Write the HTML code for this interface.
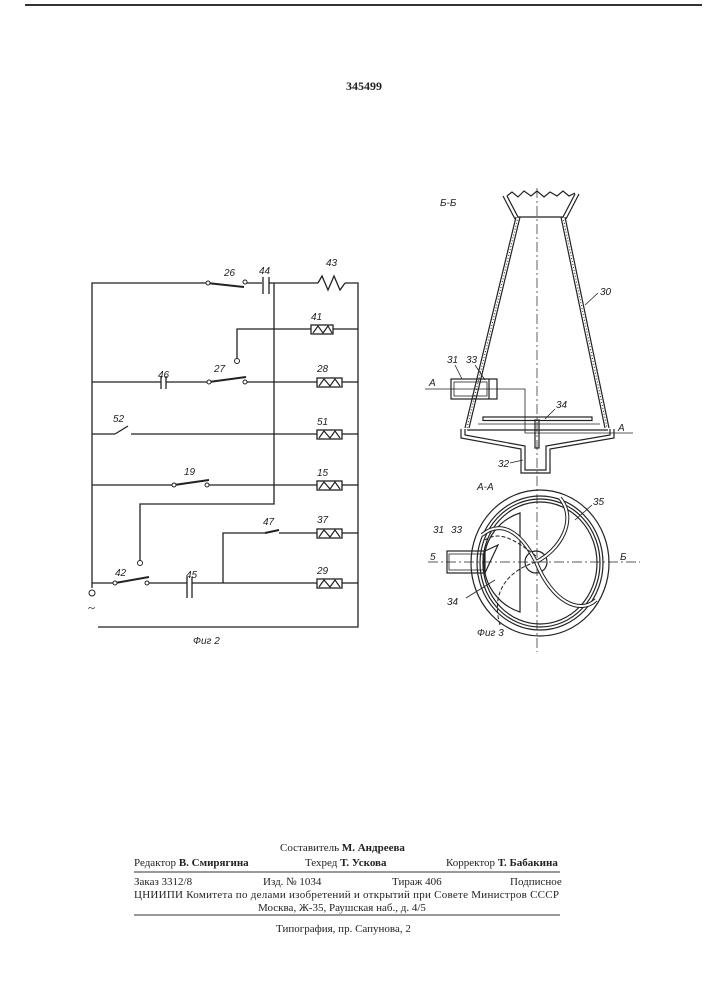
<!DOCTYPE html>
<html><head><meta charset="utf-8"><style>
html,body{margin:0;padding:0;background:#fff}
svg{display:block}
text{font-family:"Liberation Serif",serif;fill:#222}
.i{font-family:"Liberation Sans",sans-serif;font-style:italic;font-size:10px}
</style></head><body>
<svg width="707" height="1000" viewBox="0 0 707 1000" xmlns="http://www.w3.org/2000/svg">
<line x1="25" y1="5" x2="702" y2="5" stroke="#333" stroke-width="2"/>
<text x="346" y="90" font-size="12" font-weight="bold">345499</text>

<g stroke="#222" stroke-width="1.3" fill="none">
<polyline points="207,283 92,283 92,588"/>
<polyline points="98,627 358,627 358,283 345,283"/>
<line x1="207" y1="283" x2="244" y2="287" stroke-width="2"/>
<line x1="245" y1="283" x2="262" y2="283"/>
<line x1="263" y1="277" x2="263" y2="294"/><line x1="269" y1="277" x2="269" y2="294"/>
<line x1="269" y1="283" x2="318" y2="283"/>
<polyline points="318,283 322,276 328,290 334,276 340,290 345,283"/>
<polyline points="274,283 274,504 140,504 140,561"/>
<polyline points="237,359 237,329 311,329"/><line x1="333" y1="329" x2="358" y2="329"/>
<rect x="311" y="325" width="22" height="9"/>
<line x1="92" y1="382" x2="161" y2="382"/><line x1="166" y1="382" x2="209" y2="382"/>
<line x1="161" y1="376" x2="161" y2="389"/><line x1="166" y1="376" x2="166" y2="389"/>
<line x1="209" y1="382" x2="246" y2="377" stroke-width="2"/>
<line x1="245" y1="382" x2="317" y2="382"/><line x1="342" y1="382" x2="358" y2="382"/>
<rect x="317" y="378" width="25" height="9"/>
<line x1="92" y1="434" x2="115" y2="434"/>
<line x1="115" y1="434" x2="128" y2="426"/>
<line x1="131" y1="434" x2="317" y2="434"/><line x1="342" y1="434" x2="358" y2="434"/>
<rect x="317" y="430" width="25" height="9"/>
<line x1="92" y1="485" x2="174" y2="485"/>
<line x1="174" y1="485" x2="209" y2="480" stroke-width="2"/>
<line x1="207" y1="485" x2="317" y2="485"/><line x1="342" y1="485" x2="358" y2="485"/>
<rect x="317" y="481" width="25" height="9"/>
<polyline points="223,583 223,533 265,533"/>
<line x1="265" y1="533" x2="279" y2="530" stroke-width="2"/>
<line x1="279" y1="533" x2="317" y2="533"/><line x1="342" y1="533" x2="358" y2="533"/>
<rect x="317" y="529" width="25" height="9"/>
<line x1="92" y1="583" x2="115" y2="583"/>
<line x1="115" y1="583" x2="149" y2="577" stroke-width="2"/>
<line x1="147" y1="583" x2="187" y2="583"/>
<line x1="187" y1="577" x2="187" y2="598"/><line x1="192" y1="577" x2="192" y2="598"/>
<line x1="192" y1="583" x2="317" y2="583"/><line x1="342" y1="583" x2="358" y2="583"/>
<rect x="317" y="579" width="25" height="9"/>
<polyline points="313,333 318,326 323,333 328,326 332,333" stroke-width="1.2"/>
<polyline points="319,386 324,379 330,386 335,379 340,386" stroke-width="1.2"/>
<polyline points="319,438 324,431 330,438 335,431 340,438" stroke-width="1.2"/>
<polyline points="319,489 324,482 330,489 335,482 340,489" stroke-width="1.2"/>
<polyline points="319,537 324,530 330,537 335,530 340,537" stroke-width="1.2"/>
<polyline points="319,587 324,580 330,587 335,580 340,587" stroke-width="1.2"/>
</g>
<g fill="#fff" stroke="#222" stroke-width="1">
<circle cx="237" cy="361" r="2.5"/><circle cx="140" cy="563" r="2.5"/>
<circle cx="92" cy="593" r="3"/>
<circle cx="208" cy="283" r="2"/><circle cx="245" cy="282" r="2"/>
<circle cx="209" cy="382" r="2"/><circle cx="245" cy="382" r="2"/>
<circle cx="174" cy="485" r="2"/><circle cx="207" cy="485" r="2"/>
<circle cx="115" cy="583" r="2"/><circle cx="147" cy="583" r="2"/>
</g>
<text x="88" y="612" font-size="13">~</text>
<text class="i" x="224" y="276">26</text><text class="i" x="259" y="274">44</text><text class="i" x="326" y="266">43</text>
<text class="i" x="311" y="320">41</text><text class="i" x="158" y="378">46</text><text class="i" x="214" y="372">27</text>
<text class="i" x="317" y="372">28</text><text class="i" x="113" y="422">52</text><text class="i" x="317" y="425">51</text>
<text class="i" x="184" y="475">19</text><text class="i" x="317" y="476">15</text><text class="i" x="263" y="525">47</text>
<text class="i" x="317" y="523">37</text><text class="i" x="115" y="576">42</text><text class="i" x="186" y="578">45</text>
<text class="i" x="317" y="574">29</text><text class="i" x="193" y="644">Фиг 2</text>

<g stroke="#222" stroke-width="1.2" fill="none">
<line x1="537" y1="188" x2="537" y2="652" stroke-width="0.7" stroke-dasharray="10,3,2,3"/>
<polyline points="507,196 512,192 518,197 524,191 531,196 537,191 544,197 550,192 557,196 563,191 569,196 575,193"/>
<polyline points="507,196 518,217 563,217 575,194"/>
<polyline points="503,196 515,219"/><polyline points="579,194 566,219"/>
<line x1="516" y1="217" x2="465" y2="428"/><line x1="520" y1="217" x2="469" y2="428"/>
<line x1="518" y1="217" x2="467" y2="428" stroke-width="1" stroke-dasharray="1,2"/>
<line x1="561" y1="217" x2="605" y2="428"/><line x1="565" y1="217" x2="609" y2="428"/>
<line x1="563" y1="217" x2="607" y2="428" stroke-width="1" stroke-dasharray="1,2"/>
<polyline points="461,429 461,438 521,449 521,473 550,473 550,449 614,438 614,429"/>
<polyline points="465,429 465,435 525,446 525,470 546,470 546,446 610,435 610,429"/>
<line x1="467" y1="430" x2="608" y2="430"/>
<rect x="483" y="417" width="109" height="3.5"/>
<line x1="478" y1="424" x2="600" y2="424" stroke-width="0.8"/>
<rect x="535" y="420" width="4" height="28"/>
<rect x="451" y="379" width="46" height="20"/>
<rect x="454" y="382" width="33" height="14" stroke-width="0.8"/>
<line x1="489" y1="379" x2="489" y2="399"/>
<polyline points="425,389 525,389 525,433 633,433" stroke-width="0.8"/>
<ellipse cx="540" cy="563" rx="69" ry="73"/>
<ellipse cx="540" cy="563" rx="63" ry="67"/>
<ellipse cx="540" cy="563" rx="60" ry="64"/>
<ellipse cx="540" cy="563" rx="57" ry="61"/>
<path d="M520,513 A52,52 0 0 0 520,612 Z"/>
<circle cx="536" cy="562" r="11"/>
<g stroke-width="4"><path d="M536,562 C560,550 578,520 560,498"/><path d="M536,562 C552,602 580,615 596,600"/><path d="M536,562 C520,530 500,520 482,535"/></g>
<g stroke-width="2" stroke="#fff"><path d="M536,562 C560,550 578,520 560,498"/><path d="M536,562 C552,602 580,615 596,600"/><path d="M536,562 C520,530 500,520 482,535"/></g>
<path d="M536,562 C510,570 490,590 500,625" stroke-width="1" stroke-dasharray="4,2"/>
<path d="M536,556 C515,540 500,530 485,540" stroke-width="1" stroke-dasharray="4,2"/>
<rect x="447" y="551" width="38" height="22"/>
<rect x="449" y="554" width="34" height="16" stroke-width="0.8"/>
<polyline points="485,551 498,545 490,562 485,573"/>
<line x1="428" y1="562" x2="640" y2="562" stroke-width="0.7" stroke-dasharray="10,3,2,3"/>
<line x1="598" y1="293" x2="585" y2="305" stroke-width="0.8"/>
<line x1="455" y1="365" x2="462" y2="379" stroke-width="0.8"/>
<line x1="475" y1="365" x2="485" y2="380" stroke-width="0.8"/>
<line x1="555" y1="409" x2="545" y2="419" stroke-width="0.8"/>
<line x1="510" y1="463" x2="523" y2="460" stroke-width="0.8"/>
<line x1="592" y1="505" x2="575" y2="520" stroke-width="0.8"/>
<line x1="466" y1="598" x2="495" y2="580" stroke-width="0.8"/>
</g>
<text class="i" x="440" y="206">Б-Б</text><text class="i" x="600" y="295">30</text>
<text class="i" x="447" y="363">31</text><text class="i" x="466" y="363">33</text>
<text class="i" x="429" y="386">А</text><text class="i" x="556" y="408">34</text>
<text class="i" x="618" y="431">А</text><text class="i" x="498" y="467">32</text>
<text class="i" x="477" y="490">А-А</text><text class="i" x="593" y="505">35</text>
<text class="i" x="433" y="533">31</text><text class="i" x="451" y="533">33</text>
<text class="i" x="430" y="560">5</text><text class="i" x="620" y="560">Б</text>
<text class="i" x="447" y="605">34</text><text class="i" x="477" y="636">Фиг 3</text>

<g font-size="11">
<text x="280" y="851">Составитель <tspan font-weight="bold">М. Андреева</tspan></text>
<text x="134" y="866">Редактор <tspan font-weight="bold">В. Смирягина</tspan></text>
<text x="305" y="866">Техред <tspan font-weight="bold">Т. Ускова</tspan></text>
<text x="446" y="866">Корректор <tspan font-weight="bold">Т. Бабакина</tspan></text>
<text x="134" y="885">Заказ 3312/8</text>
<text x="263" y="885">Изд. № 1034</text>
<text x="392" y="885">Тираж 406</text>
<text x="510" y="885">Подписное</text>
<text x="134" y="898" textLength="425">ЦНИИПИ Комитета по делами изобретений и открытий при Совете Министров СССР</text>
<text x="258" y="911">Москва, Ж-35, Раушская наб., д. 4/5</text>
<text x="276" y="932">Типография, пр. Сапунова, 2</text>
</g>
<line x1="134" y1="872" x2="560" y2="872" stroke="#333" stroke-width="1"/>
<line x1="134" y1="915" x2="560" y2="915" stroke="#333" stroke-width="1"/>
</svg>
</body></html>
